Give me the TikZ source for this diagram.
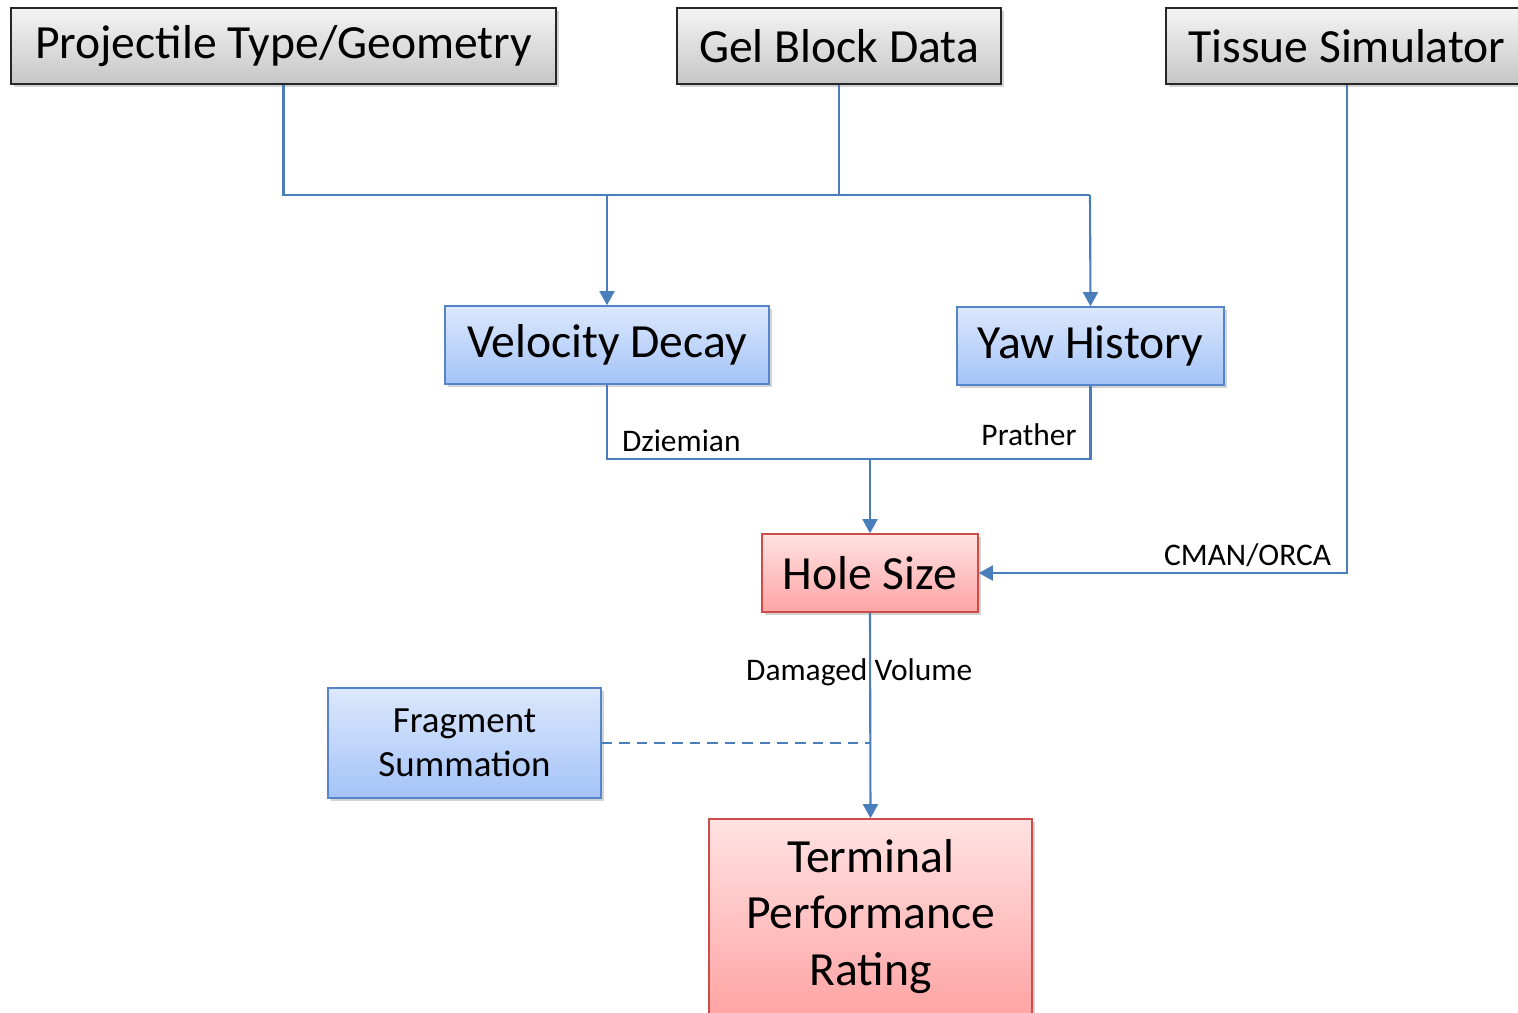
\documentclass[tikz,border=0pt]{standalone}
\usepackage{fontspec}
\setmainfont{Carlito}
\usepackage{tikz}
\usetikzlibrary{arrows.meta,positioning,shadows}
\definecolor{wire}{HTML}{4A7EBB}
\definecolor{greytop}{HTML}{F4F4F4}
\definecolor{greybot}{HTML}{C6C6C6}
\definecolor{bluetop}{HTML}{DCE8FC}
\definecolor{bluebot}{HTML}{A4C3F8}
\definecolor{blueline}{HTML}{5585C8}
\definecolor{redtop}{HTML}{FFE2E2}
\definecolor{redbot}{HTML}{FFA4A4}
\definecolor{redline}{HTML}{CC4C4A}
\newcommand{\bigtxt}{\fontsize{27.1pt}{32.3pt}\selectfont}
\newcommand{\midtxt}{\fontsize{21pt}{25pt}\selectfont}
\newcommand{\smalltxt}{\fontsize{17.9pt}{21pt}\selectfont}
\tikzset{
  box/.style={rectangle, line width=0.9pt, align=center, inner sep=0pt,
              font=\bigtxt, drop shadow={opacity=0.35, shadow xshift=1.5pt, shadow yshift=-1.5pt}},
  inbox/.style={box, draw=black!85, top color=greytop, bottom color=greybot},
  calcbox/.style={box, draw=blueline, top color=bluetop, bottom color=bluebot},
  outbox/.style={box, draw=redline, top color=redtop, bottom color=redbot},
  lbl/.style={font=\smalltxt, inner sep=0pt},
  wireline/.style={draw=wire, line width=1.2pt},
  flow/.style={wireline, -{Triangle[length=8pt,width=8.5pt]}},
  dashflow/.style={wireline, dash pattern=on 6pt off 4pt}
}
\begin{document}
\begin{tikzpicture}[x=0.02cm, y=-0.02cm]
  \useasboundingbox (0,0) rectangle (1518,1012);
  % inputs
  \node[inbox, minimum width=10.9cm, minimum height=1.52cm] (proj) at (283.5,46) {Projectile Type/Geometry};
  \node[inbox, minimum width=6.48cm, minimum height=1.52cm] (gel) at (839,46) {Gel Block Data};
  \node[inbox, minimum width=7.24cm, minimum height=1.52cm] (tissue) at (1347,46) {Tissue Simulator};
  % models
  \node[calcbox, minimum width=6.48cm, minimum height=1.56cm] (velo) at (607,345) {Velocity Decay};
  \node[calcbox, minimum width=5.34cm, minimum height=1.56cm] (yaw) at (1090.5,346) {Yaw History};
  \node[outbox, minimum width=4.32cm, minimum height=1.56cm] (hole) at (870,573) {Hole Size};
  \node[calcbox, minimum width=5.46cm, minimum height=2.2cm, font=\midtxt] (frag) at (464.5,743) {Fragment\\Summation};
  \node[outbox, minimum width=6.46cm, minimum height=3.9cm] (term) at (870.5,916.5) {Terminal\\Performance\\Rating};
  % joints
  \coordinate (j1) at (839,195);
  \coordinate (j1v) at (607,195);
  \coordinate (j1y) at (1090,195);
  \coordinate (j2) at (870,459);
  \coordinate (fj) at (870,743);
  \draw[wireline] (proj.south) |- (j1);
  \draw[wireline] (gel.south) -- (j1);
  \draw[wireline] (j1) -- (j1y);
  \draw[flow] (j1v) -- (velo.north);
  \draw[flow] (j1y) -- (yaw.north);
  \draw[wireline] (velo.south) |- node[lbl, pos=0.5, anchor=south west, xshift=14pt*0.567, yshift=6pt*0.567]{Dziemian} (j2);
  \draw[wireline] (yaw.south) |- node[lbl, pos=0.5, anchor=south east, xshift=-13pt*0.567, yshift=12pt*0.567]{Prather} (j2);
  \draw[flow] (j2) -- (hole.north);
  \draw[flow] (tissue.south) |- node[lbl, pos=0.5, anchor=south east, xshift=-15pt*0.567, yshift=5pt*0.567]{CMAN/ORCA} (hole.east);
  \draw[flow] (hole.south) -- node[lbl, pos=0.29, xshift=-11pt*0.567]{Damaged Volume} (term.north);
  \draw[dashflow] (frag.east) -- (fj);
\end{tikzpicture}
\end{document}
